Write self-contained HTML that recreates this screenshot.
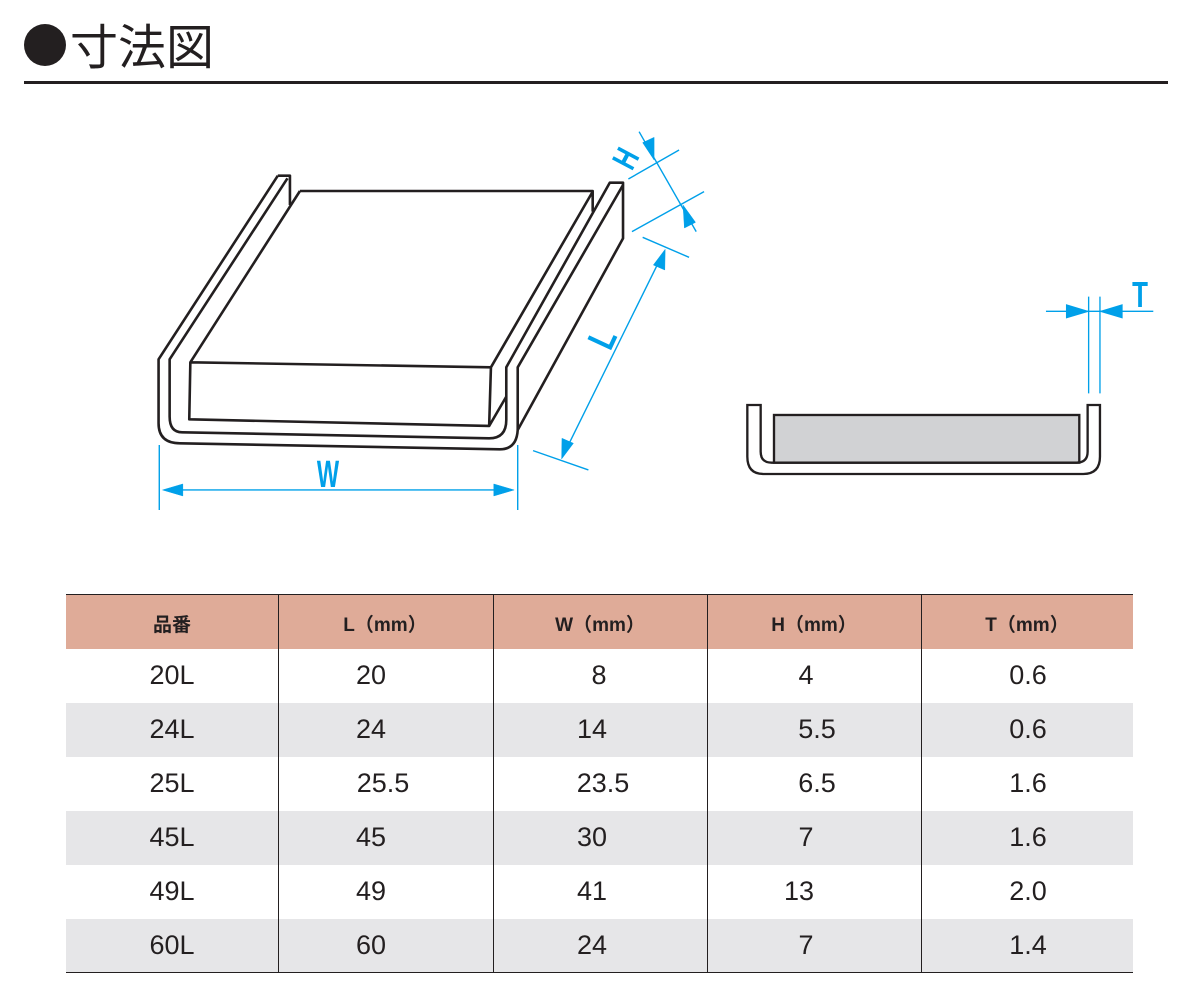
<!DOCTYPE html>
<html><head><meta charset="utf-8"><style>
body{margin:0;width:1200px;height:1000px;background:#fff;position:relative;overflow:hidden;font-family:"Liberation Sans","Noto Sans CJK JP",sans-serif;}
.a{position:absolute}
.c{position:absolute;transform:translateX(-50%);white-space:nowrap;color:#231f20}
.h{font-size:19px;font-weight:bold;top:610px}
.d{font-size:27px}
</style></head><body>
<div class="a" style="left:24px;top:24px;width:42px;height:42px;border-radius:50%;background:#231f20"></div>
<div class="a" style="left:70px;top:13px;font-size:48px;color:#231f20;font-family:'Noto Sans CJK JP',sans-serif;line-height:60px">寸法図</div>
<div class="a" style="left:24px;top:81px;width:1144px;height:3px;background:#231f20"></div>

<svg class="a" style="left:0;top:0" width="1200" height="560">
<g transform="translate(150,130) scale(0.357,0.3333)" fill="none" stroke="#231f20" stroke-width="2.6" stroke-linejoin="round">
<path vector-effect="non-scaling-stroke" d="M358,137 L392,137 L392,225 M358,137 L24,688 L24,880 Q24,940 84,940 L980,958 Q1027,958 1030,900 L1325,325 L1325,158 L1288,158 L998,712 L998,870 Q998,925 950,925 L90,907 Q55,907 55,860 L55,688 L385,145"/>
<path vector-effect="non-scaling-stroke" d="M1325,165 L1030,712 L1030,900"/>
<path vector-effect="non-scaling-stroke" d="M420,183 L1240,183 L1240,245 M420,183 L113,697 L110,868 L950,888 L955,712 L113,697 M955,712 L1240,185 M950,888 L998,800"/>
</g>
<g transform="translate(150,130) scale(0.357,0.3333)" stroke="#00a0e9" stroke-width="1.4" fill="#00a0e9">
<path vector-effect="non-scaling-stroke" d="M26,945 L26,1140 M1030,945 L1030,1140 M60,1080 L990,1080" fill="none"/>
<polygon points="35,1080 92,1062 92,1098"/><polygon points="1020,1080 963,1062 963,1098"/>
<path vector-effect="non-scaling-stroke" d="M1380,322 L1510,382 M1073,962 L1228,1020 M1430,385 L1165,960 M1340,147 L1482,60 M1350,305 L1552,185 M1370,5 L1530,305" fill="none"/>
<polygon points="1443,358 1442,420 1410,405"/><polygon points="1153,987 1154,925 1186,940"/>
<polygon points="1412,90 1380,38 1412,22"/><polygon points="1493,225 1528,277 1497,294"/>
</g>
<text x="0" y="0" fill="#00a0e9" font-size="38" font-weight="bold" text-anchor="middle" transform="translate(328,487) scale(0.62,1)">W</text>
<text x="0" y="0" fill="#00a0e9" font-size="38" font-weight="bold" text-anchor="middle" transform="translate(614,344) rotate(-65) scale(0.75,1)">L</text>
<text x="0" y="0" fill="#00a0e9" font-size="34" font-weight="bold" text-anchor="middle" transform="translate(636,164) rotate(-62) scale(0.72,1)">H</text>
<g transform="translate(730,270) scale(0.3333)" stroke="#231f20" stroke-width="7" fill="none">
<rect x="132" y="435" width="916" height="143" fill="#d1d2d4"/>
<path d="M52,405 L92,405 L92,545 Q92,578 125,578 L1040,578 Q1073,578 1073,545 L1073,405 L1110,405 L1110,560 Q1110,612 1060,612 L100,612 Q52,612 52,560 Z"/>
</g>
<g transform="translate(730,270) scale(0.3333)" stroke="#00a0e9" stroke-width="4" fill="#00a0e9">
<path d="M1076,80 L1076,370 M1110,80 L1110,370 M948,124 L1270,124" fill="none"/>
<polygon points="1073,124 1010,105 1010,143"/><polygon points="1113,124 1176,105 1176,143"/>
</g>
<text x="0" y="0" fill="#00a0e9" font-size="36" font-weight="bold" text-anchor="middle" transform="translate(1140,307) scale(0.72,1)">T</text>
</svg>

<div class="a" style="left:66px;top:594px;width:1067px;height:1px;background:#231f20"></div>
<div class="a" style="left:66px;top:595px;width:1067px;height:54px;background:#dfab98"></div>
<div class="a" style="left:66px;top:703px;width:1067px;height:54px;background:#e6e6e8"></div>
<div class="a" style="left:66px;top:811px;width:1067px;height:54px;background:#e6e6e8"></div>
<div class="a" style="left:66px;top:919px;width:1067px;height:54px;background:#e6e6e8"></div>
<div class="a" style="left:66px;top:972px;width:1067px;height:1px;background:#231f20"></div>
<div class="a" style="left:278px;top:594px;width:1px;height:379px;background:#231f20"></div>
<div class="a" style="left:493px;top:594px;width:1px;height:379px;background:#231f20"></div>
<div class="a" style="left:707px;top:594px;width:1px;height:379px;background:#231f20"></div>
<div class="a" style="left:921px;top:594px;width:1px;height:379px;background:#231f20"></div>

<div class="c h" style="left:172px">品番</div>
<div class="c h" style="left:385px">L（mm）</div>
<div class="c h" style="left:600px">W（mm）</div>
<div class="c h" style="left:814px">H（mm）</div>
<div class="c h" style="left:1027px">T（mm）</div>

<div class="a" style="left:0;top:660px;width:1200px">
<div class="c d" style="left:172px;top:0">20L</div><div class="c d" style="left:371px;top:0">20</div><div class="c d" style="left:599px;top:0">8</div><div class="c d" style="left:806px;top:0">4</div><div class="c d" style="left:1028px;top:0">0.6</div>
<div class="c d" style="left:172px;top:54px">24L</div><div class="c d" style="left:371px;top:54px">24</div><div class="c d" style="left:592px;top:54px">14</div><div class="c d" style="left:817px;top:54px">5.5</div><div class="c d" style="left:1028px;top:54px">0.6</div>
<div class="c d" style="left:172px;top:108px">25L</div><div class="c d" style="left:383px;top:108px">25.5</div><div class="c d" style="left:603px;top:108px">23.5</div><div class="c d" style="left:817px;top:108px">6.5</div><div class="c d" style="left:1028px;top:108px">1.6</div>
<div class="c d" style="left:172px;top:162px">45L</div><div class="c d" style="left:371px;top:162px">45</div><div class="c d" style="left:592px;top:162px">30</div><div class="c d" style="left:806px;top:162px">7</div><div class="c d" style="left:1028px;top:162px">1.6</div>
<div class="c d" style="left:172px;top:216px">49L</div><div class="c d" style="left:371px;top:216px">49</div><div class="c d" style="left:592px;top:216px">41</div><div class="c d" style="left:799px;top:216px">13</div><div class="c d" style="left:1028px;top:216px">2.0</div>
<div class="c d" style="left:172px;top:270px">60L</div><div class="c d" style="left:371px;top:270px">60</div><div class="c d" style="left:592px;top:270px">24</div><div class="c d" style="left:806px;top:270px">7</div><div class="c d" style="left:1028px;top:270px">1.4</div>
</div>
</body></html>
